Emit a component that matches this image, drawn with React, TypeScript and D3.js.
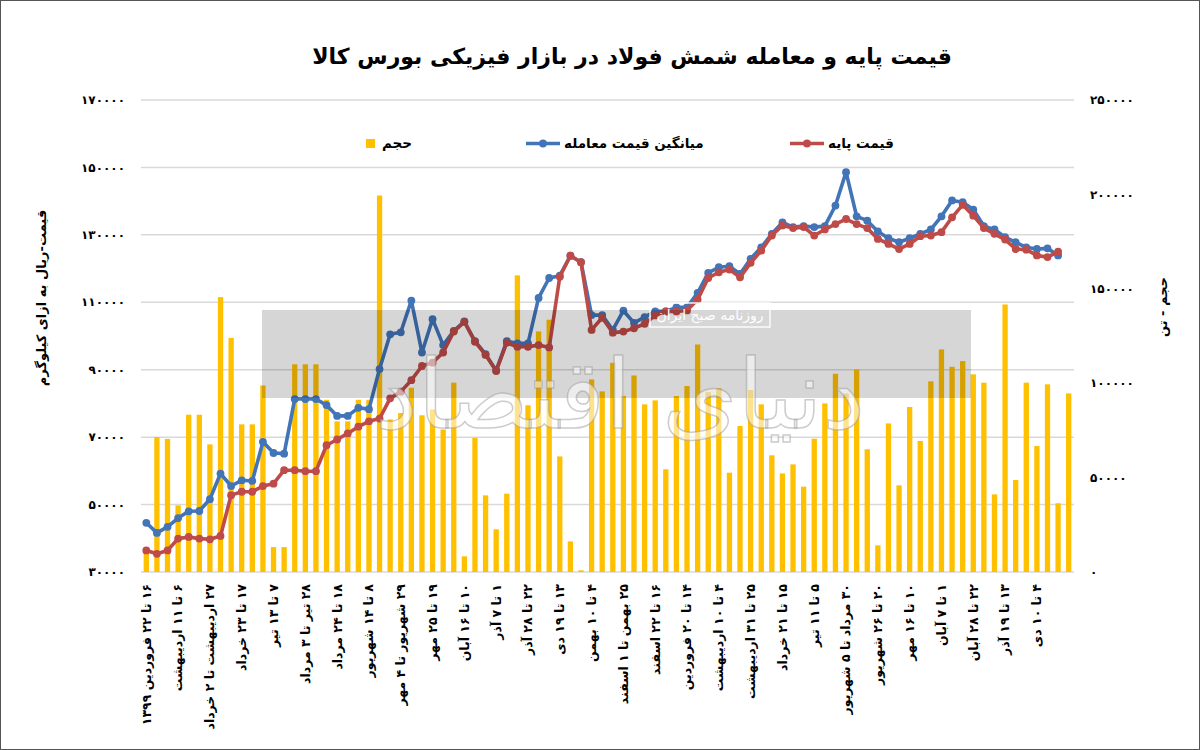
import React from "react";
import * as d3 from "d3";

// ---------- DATA ----------
const volume = [
  12000, 71500, 70500, 35300, 83300, 83300, 67600, 145600, 124000, 78200,
  78200, 98800, 13200, 13200, 110000, 110000, 110000, 91200, 79800, 79800,
  91200, 91200, 199400, 80800, 84200, 97600, 83000, 86100, 75500, 100300,
  8300, 71100, 40600, 22600, 41500, 157100, 88300, 127400, 133600, 61200,
  16200, 900, 102000, 95700, 110800, 93300, 104100, 88800, 90900, 54400,
  93200, 98500, 120500, 95300, 97300, 52600, 77300, 96400, 88800, 61800,
  52200, 57000, 45200, 70600, 89300, 105000, 94600, 107300, 65000, 14100,
  78700, 45900, 87400, 69400, 101000, 117900, 108700, 111700, 104700, 100300,
  41100, 141700, 48700, 100300, 66700, 99400, 36400, 94600,
];

const avgTradePrice: (number | null)[] = [
  44600, 41600, 43400, 46000, 48000, 48100, 51600, 59200, 55500, 57200,
  57000, 68600, 65300, 65100, 81300, 81300, 81300, 79500, 76300, 76300,
  78700, 78300, 90200, 100500, 101100, 110500, 95100, 105000, 97300, 101500,
  104300, 98500, 94600, 89800, 98500, 97800, 97800, 111300, 117200, 117900,
  123800, 121900, 106200, 106200, 101800, 107500, 103900, 105600, 107300, 107300,
  108500, 108500, 112800, 118700, 120400, 120700, 118400, 122900, 126300, 130300,
  133700, 132300, 132600, 132300, 132600, 138700, 148600, 135500, 134200, 131000,
  129000, 127800, 129000, 130300, 131600, 135500, 140200, 139700, 137500, 132600,
  131600, 129300, 127800, 126300, 125800, 126000, 123900, null,
];

const basePrice: (number | null)[] = [
  36400, 35400, 36400, 39900, 40400, 39900, 39700, 40700, 52800, 53800,
  53800, 55500, 56200, 60200, 60200, 59900, 59900, 67600, 69300, 71100,
  73100, 74700, 75500, 81500, 83500, 86900, 91100, 92100, 95100, 101300,
  104200, 98300, 94400, 89600, 98000, 96800, 96800, 97300, 96600, 117600,
  123800, 121900, 101800, 105400, 101000, 101300, 102300, 103600, 106100, 107300,
  107300, 107600, 110800, 117200, 118900, 119700, 117400, 121700, 125300, 129800,
  132800, 132000, 132300, 129800, 131600, 133200, 134700, 133200, 132000, 128800,
  127300, 125800, 127300, 129600, 129800, 130800, 135200, 138900, 135700, 132000,
  130300, 128600, 125800, 125600, 123900, 123400, 125000, null,
];

// labels shown on the category axis (every third week)
const xLabels = [
  "۱۶ تا ۲۲ فروردین ۱۳۹۹",
  "۶ تا ۱۱ اردیبهشت",
  "۲۷ اردیبهشت تا ۲ خرداد",
  "۱۷ تا ۲۳ خرداد",
  "۷ تا ۱۳ تیر",
  "۲۸ تیر تا ۳ مرداد",
  "۱۸ تا ۲۴ مرداد",
  "۸ تا ۱۴ شهریور",
  "۲۹ شهریور تا ۴ مهر",
  "۱۹ تا ۲۵ مهر",
  "۱۰ تا ۱۶ آبان",
  "۱ تا ۷ آذر",
  "۲۲ تا ۲۸ آذر",
  "۱۳ تا ۱۹ دی",
  "۴ تا ۱۰ بهمن",
  "۲۵ بهمن تا ۱ اسفند",
  "۱۶ تا ۲۲ اسفند",
  "۱۴ تا ۲۰ فروردین",
  "۴ تا ۱۰ اردیبهشت",
  "۲۵ تا ۳۱ اردیبهشت",
  "۱۵ تا ۲۱ خرداد",
  "۵ تا ۱۱ تیر",
  "۳۰ مرداد تا ۵ شهریور",
  "۲۰ تا ۲۶ شهریور",
  "۱۰ تا ۱۶ مهر",
  "۱ تا ۷ آبان",
  "۲۲ تا ۲۸ آبان",
  "۱۳ تا ۱۹ آذر",
  "۴ تا ۱۰ دی",
];
const LABEL_STEP = 3;

const leftTicks = [30000, 50000, 70000, 90000, 110000, 130000, 150000, 170000];
const rightTicks = [0, 50000, 100000, 150000, 200000, 250000];

const title = "قیمت پایه و معامله شمش فولاد در بازار فیزیکی بورس کالا";
const legendVolume = "حجم";
const legendAvg = "میانگین قیمت معامله";
const legendBase = "قیمت پایه";
const leftTitle = "قیمت-ریال به ازای کیلوگرم";
const rightTitle = "حجم - تن";
const watermarkLogo = "دنیای اقتصاد";
const watermarkSub = "روزنامه صبح ایران";

// ---------- STYLE ----------
const W = 1200;
const H = 750;
const M = { left: 141, right: 1074, top: 100, bottom: 572 };
const FONT = "'DejaVu Sans', sans-serif";
const YELLOW = "#FFC000";
const BLUE = "#4274B8";
const RED = "#BF4B48";
const GRID = "#D9D9D9";

const fa = (n: number) =>
  String(n).replace(/\d/g, (d) => "۰۱۲۳۴۵۶۷۸۹"[+d]);

export default function App() {
  const idx = d3.range(volume.length);
  const x = d3
    .scaleBand<number>()
    .domain(idx)
    .range([M.left, M.right])
    .paddingInner(0.5)
    .paddingOuter(0.25);
  const cx = (i: number) => (x(i) as number) + x.bandwidth() / 2;
  const yL = d3.scaleLinear().domain([30000, 170000]).range([M.bottom, M.top]);
  const yR = d3.scaleLinear().domain([0, 250000]).range([M.bottom, M.top]);

  const line = d3
    .line<number | null>()
    .defined((d) => d != null)
    .x((_, i) => cx(i))
    .y((d) => yL(d as number));

  const series = [
    { data: avgTradePrice, color: BLUE },
    { data: basePrice, color: RED },
  ];

  return (
    <svg
      width={W}
      height={H}
      style={{ position: "absolute", left: 0, top: 0, background: "#fff" }}
      fontFamily={FONT}
    >
      <rect x={0.5} y={0.5} width={W - 1} height={H - 1} fill="#fff" stroke="#555" />

      {/* title */}
      <text
        x={632}
        y={64}
        textAnchor="middle"
        direction="rtl"
        fontSize={22}
        fontWeight="bold"
        fill="#000"
      >
        {title}
      </text>

      {/* gridlines */}
      {leftTicks.map((t) => (
        <line
          key={t}
          x1={M.left}
          x2={M.right}
          y1={yL(t)}
          y2={yL(t)}
          stroke={GRID}
          strokeWidth={1.5}
        />
      ))}

      {/* left axis labels */}
      {leftTicks.map((t) => (
        <text
          key={"l" + t}
          x={125}
          y={yL(t)}
          dy="0.35em"
          textAnchor="end"
          fontSize={12}
          fontWeight="bold"
        >
          {fa(t)}
        </text>
      ))}
      {/* right axis labels */}
      {rightTicks.map((t) => (
        <text
          key={"r" + t}
          x={1090}
          y={yR(t)}
          dy="0.35em"
          textAnchor="start"
          fontSize={12}
          fontWeight="bold"
        >
          {fa(t)}
        </text>
      ))}

      {/* axis titles */}
      <text
        transform={`translate(46,298) rotate(-90)`}
        textAnchor="middle"
        direction="rtl"
        fontSize={13}
        fontWeight="bold"
      >
        {leftTitle}
      </text>
      <text
        transform={`translate(1167,307) rotate(-90)`}
        textAnchor="middle"
        direction="rtl"
        fontSize={13}
        fontWeight="bold"
      >
        {rightTitle}
      </text>

      {/* bars */}
      {volume.map((v, i) => (
        <rect
          key={"b" + i}
          x={x(i)}
          y={yR(v)}
          width={x.bandwidth()}
          height={yR(0) - yR(v)}
          fill={YELLOW}
        />
      ))}

      {/* lines */}
      {series.map((s, k) => (
        <g key={"s" + k}>
          <path
            d={line(s.data) || ""}
            fill="none"
            stroke={s.color}
            strokeWidth={3.6}
            strokeLinejoin="round"
            strokeLinecap="round"
          />
          {s.data.map((d, i) =>
            d == null ? null : (
              <circle key={i} cx={cx(i)} cy={yL(d)} r={3.9} fill={s.color} />
            )
          )}
        </g>
      ))}

      {/* category labels */}
      {xLabels.map((lab, j) => {
        const i = j * LABEL_STEP;
        return (
          <text
            key={"x" + j}
            transform={`translate(${cx(i)},584) rotate(-90)`}
            direction="rtl"
            textAnchor="start"
            dy="0.35em"
            fontSize={12.5}
            fontWeight="bold"
          >
            {lab}
          </text>
        );
      })}

      {/* legend */}
      <g fontSize={13.5} fontWeight="bold">
        <rect x={366} y={139} width={9} height={9} fill={YELLOW} />
        <text x={382} y={148} direction="rtl" textAnchor="end">{legendVolume}</text>

        <line x1={526} x2={560} y1={143.5} y2={143.5} stroke={BLUE} strokeWidth={3.6} />
        <circle cx={543} cy={143.5} r={3.9} fill={BLUE} />
        <text x={564} y={148} direction="rtl" textAnchor="end">{legendAvg}</text>

        <line x1={790} x2={824} y1={143.5} y2={143.5} stroke={RED} strokeWidth={3.6} />
        <circle cx={807} cy={143.5} r={3.9} fill={RED} />
        <text x={828} y={148} direction="rtl" textAnchor="end">{legendBase}</text>
      </g>

      {/* watermark */}
      <g pointerEvents="none">
        <rect x={262} y={310} width={709} height={88} fill="#000" opacity={0.16} />
        <text
          x={620}
          y={428}
          textAnchor="middle"
          direction="rtl"
          fontSize={96}
          fill="#fff"
          fillOpacity={0.55}
          stroke="#999"
          strokeOpacity={0.5}
          strokeWidth={1.5}
        >
          {watermarkLogo}
        </text>
        <rect x={650} y={303} width={120} height={24} fill="none" stroke="#fff" strokeWidth={1.5} opacity={0.9} />
        <text x={710} y={320} textAnchor="middle" direction="rtl" fontSize={14} fill="#fff">
          {watermarkSub}
        </text>
      </g>
    </svg>
  );
}
